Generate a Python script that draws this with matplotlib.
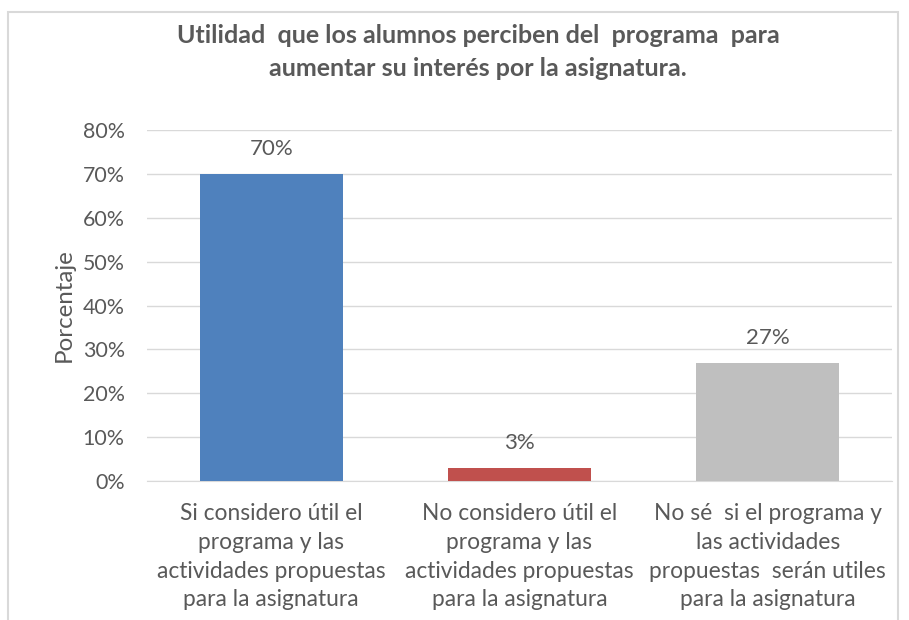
import matplotlib.pyplot as plt
from matplotlib.patches import Rectangle
from matplotlib.ticker import PercentFormatter

categorias = ['Si considero útil el\nprograma y las\nactividades propuestas\npara la asignatura',
              'No considero útil el\nprograma y las\nactividades propuestas\npara la asignatura',
              'No sé  si el programa y\nlas actividades\npropuestas  serán utiles\npara la asignatura']
porcentajes = [70, 3, 27]
colores = ['#4F81BD', '#C0504D', '#BFBFBF']
etiquetas = ['70%', '3%', '27%']
yticks = [0, 10, 20, 30, 40, 50, 60, 70, 80]

txt = '#595959'
plt.rcParams['font.family'] = ['Lato', 'DejaVu Sans']

fig = plt.figure(figsize=(9.09, 6.2), dpi=100)
ax = fig.add_axes([147 / 909, 1 - 481 / 620, 745 / 909, 351 / 620])

x = range(len(categorias))
ax.bar(x, porcentajes, width=0.575, color=colores, zorder=3)
for i, v in enumerate(porcentajes):
    ax.text(i, v + 5.6, etiquetas[i], ha='center', va='center', fontsize=16, color=txt)

ax.set_xlim(-0.5, 2.5)
ax.set_ylim(0, 80)
ax.set_yticks(yticks)
ax.yaxis.set_major_formatter(PercentFormatter(decimals=0))
ax.set_xticks(list(x))
ax.set_xticklabels(categorias, fontsize=16.4, color=txt, linespacing=1.45)
ax.tick_params(axis='y', labelsize=15.4, labelcolor=txt, length=0, pad=16)
ax.tick_params(axis='x', length=0, pad=16)
ax.grid(axis='y', color='#D9D9D9', linewidth=1, zorder=0)
for s in ['top', 'right', 'left']:
    ax.spines[s].set_visible(False)
ax.spines['bottom'].set_color('#D9D9D9')
ax.set_ylabel('Porcentaje', fontsize=17.4, color=txt, labelpad=6)

fig.text(478 / 909, 1 - 52 / 620,
         'Utilidad  que los alumnos perciben del  programa  para\naumentar su interés por la asignatura.',
         ha='center', va='center', fontsize=18, fontweight='bold', color=txt,
         family=['Liberation Sans Narrow', 'Lato'], linespacing=1.5)

fig.patches.append(Rectangle((8 / 909, -0.1), 890 / 909, 1 - 12 / 620 + 0.1,
                             transform=fig.transFigure, fill=False,
                             edgecolor='#D9D9D9', linewidth=1.5))

fig.savefig('out.png', dpi=100)
